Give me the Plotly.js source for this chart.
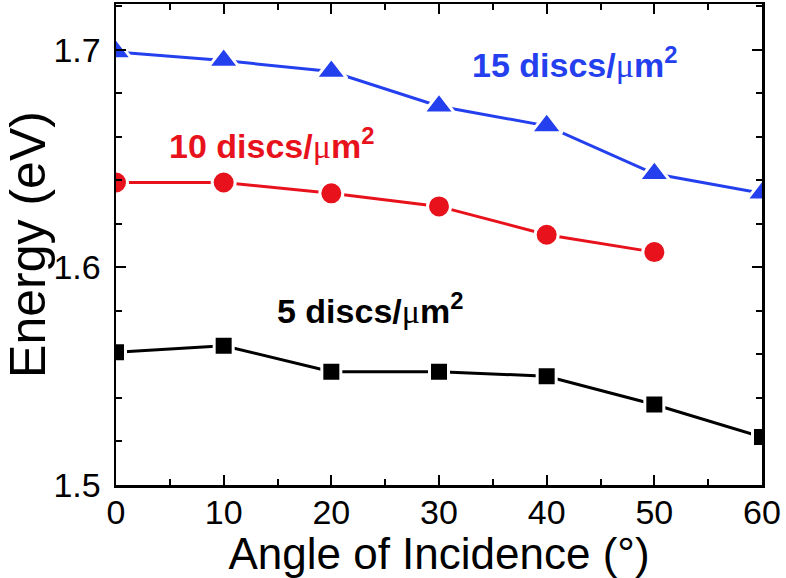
<!DOCTYPE html>
<html>
<head>
<meta charset="utf-8">
<script src="https://cdn.plot.ly/plotly-3.0.1.min.js"></script>
<style>html,body{margin:0;padding:0;background:#fff;}#chart{width:786px;height:578px;}</style>
</head>
<body>
<div id="chart"></div>
<script>
const angles = [0, 10, 20, 30, 40, 50, 60];
const angles10 = [0, 10, 20, 30, 40, 50];
const energy15 = [1.699, 1.695, 1.690, 1.674, 1.665, 1.643, 1.634];
const energy10 = [1.639, 1.639, 1.634, 1.628, 1.615, 1.607];
const energy5 = [1.561, 1.564, 1.552, 1.552, 1.550, 1.537, 1.522];
const labelNums = ["15", "10", "5"];
const labelUnit = " discs/";
const xTitle = "Angle of Incidence (\u00b0)";
const yTitle = "Energy (eV)";

const FONT = "Arial, 'Liberation Sans', sans-serif";
const BLUE = "#2440ee", RED = "#e8121c", BLACK = "#000000";

function label(n) {
  return "<b>" + n + labelUnit + "</b><span style=\"font-family:'Liberation Serif',serif\">\u03bc</span><b>m<sup>2</sup></b>";
}

const traces = [
  {x: angles, y: energy15, mode: "lines+markers", line: {color: BLUE, width: 3},
   marker: {symbol: "triangle-up", size: 27, color: BLUE, line: {color: "#fff", width: 3}}},
  {x: angles10, y: energy10, mode: "lines+markers", line: {color: RED, width: 3},
   marker: {symbol: "circle", size: 23, color: RED, line: {color: "#fff", width: 3}}},
  {x: angles, y: energy5, mode: "lines+markers", line: {color: BLACK, width: 3},
   marker: {symbol: "square", size: 19, color: BLACK, line: {color: "#fff", width: 3}}}
];

const axisCommon = {
  showline: true, linecolor: "#000", linewidth: 2.5, mirror: "allticks",
  ticks: "inside", ticklen: 10, tickwidth: 2, tickcolor: "#000",
  showgrid: false, zeroline: false, layer: "above traces",
  tickfont: {family: FONT, size: 34, color: "#000"}
};

const layout = {
  width: 786, height: 578,
  margin: {l: 116, r: 24, t: 4, b: 93},
  paper_bgcolor: "#fff", plot_bgcolor: "#fff",
  showlegend: false,
  xaxis: Object.assign({}, axisCommon, {
    range: [0, 60], tickmode: "linear", tick0: 0, dtick: 10,
    minor: {dtick: 5, ticks: "inside", ticklen: 6, tickwidth: 2, tickcolor: "#000"},
    ticklabelstandoff: -4,
    title: {text: xTitle, font: {family: FONT, size: 44, color: "#000"}, standoff: 0}
  }),
  yaxis: Object.assign({}, axisCommon, {
    range: [1.5, 1.721], tickmode: "array", tickvals: [1.5, 1.6, 1.7], ticktext: ["1.5", "1.6", "1.7"],
    minor: {tickmode: "array", tickvals: [1.52,1.54,1.56,1.58,1.62,1.64,1.66,1.68,1.72], ticks: "inside", ticklen: 6, tickwidth: 2, tickcolor: "#000"},
    ticklabelstandoff: 6,
    title: {text: yTitle, font: {family: FONT, size: 50, color: "#000"}, standoff: 0}
  }),
  annotations: [
    {x: 32.9, y: 1.694, xref: "x", yref: "y", xanchor: "left", yanchor: "middle", showarrow: false,
     text: label(labelNums[0]), font: {family: FONT, size: 34, color: BLUE}},
    {x: 4.7, y: 1.657, xref: "x", yref: "y", xanchor: "left", yanchor: "middle", showarrow: false,
     text: label(labelNums[1]), font: {family: FONT, size: 34, color: RED}},
    {x: 14.8, y: 1.581, xref: "x", yref: "y", xanchor: "left", yanchor: "middle", showarrow: false,
     text: label(labelNums[2]), font: {family: FONT, size: 34, color: BLACK}}
  ]
};

Plotly.newPlot("chart", traces, layout, {displayModeBar: false, staticPlot: true});
</script>
</body>
</html>
